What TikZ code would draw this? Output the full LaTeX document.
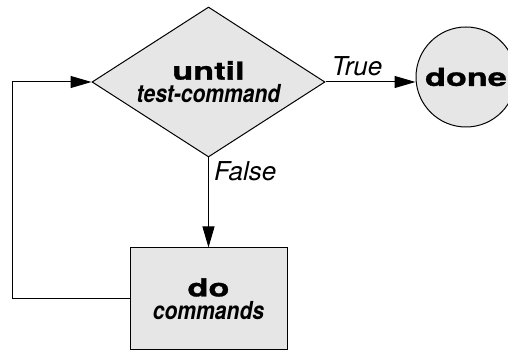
\documentclass[tikz,border=0pt]{standalone}
\usepackage{fontspec}
\setmainfont{TeX Gyre Heros}
\newfontfamily\wideheros[FakeStretch=1.38,FakeBold=1.2]{TeX Gyre Heros}
\newfontfamily\narrowheros[FakeStretch=0.85]{TeX Gyre Heros}
\usetikzlibrary{arrows.meta,positioning,shapes.geometric}
\definecolor{shapefill}{HTML}{E6E6E6}
\definecolor{shapeline}{HTML}{000000}

\begin{document}
\begin{tikzpicture}[x=.5pt,y=-.5pt,>={Triangle[length=10.5pt,width=6pt]},
  font=\fontsize{12.4pt}{11.5pt}\selectfont,
  decision/.style={diamond,draw=shapeline,fill=shapefill,line width=.5pt,aspect=1.55,
    inner sep=0pt,minimum width=116.5pt,minimum height=75pt,align=center},
  block/.style={rectangle,draw=shapeline,fill=shapefill,line width=.5pt,
    minimum width=78.5pt,minimum height=51pt,align=center},
  terminal/.style={circle,draw=shapeline,fill=shapefill,line width=.5pt,
    inner sep=0pt,minimum size=50pt},
  flow/.style={->,line width=.5pt},
  cond/.style={font=\fontsize{13pt}{12pt}\selectfont\itshape,inner sep=1.5pt}]
\useasboundingbox (0,0) rectangle (508,351);
\node[decision] (until) at (208.5,82)
  {{\wideheros\bfseries until}\\{\narrowheros\bfseries\itshape test-command}};
\node[terminal] (done) at (466,77) {\wideheros\bfseries done};
\node[block] (do) at (208.5,299)
  {{\wideheros\bfseries do}\\{\narrowheros\bfseries\itshape commands}};
\draw[flow] (until.east) -- (done.west |- until.east)
  node[cond,pos=.35,above=1.5pt] {True};
\draw[flow] (until.south) -- (do.north)
  node[cond,pos=.15,right=1pt] {False};
\draw[flow] (do.west) -- ++(-117,0) |- (until.west);
\end{tikzpicture}
\end{document}
